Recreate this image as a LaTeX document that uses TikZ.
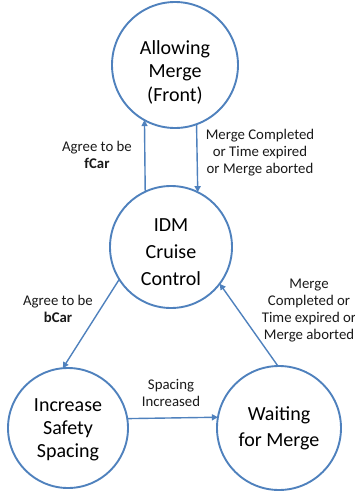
\documentclass[tikz,border=0pt]{standalone}
\usepackage{fontspec}
\setmainfont{Carlito}
\usetikzlibrary{arrows.meta}
\definecolor{stblue}{RGB}{79,129,189}
\tikzset{
  state/.style={circle, draw=stblue, line width=1.9pt, inner sep=0pt, outer sep=0pt,
    minimum size=#1},
  stext/.style={align=center, font=\fontsize{20}{#1}\selectfont, text=black, inner sep=0pt},
  conn/.style={draw=stblue, line width=1.4pt, -{Triangle[length=6pt,width=6pt]}},
  lbl/.style={align=center, font=\fontsize{14.8}{17}\selectfont, text=black!90, inner sep=0pt}
}
\begin{document}
\begin{tikzpicture}[x=1pt,y=-1pt]
\useasboundingbox (0,0) rectangle (355,491);
\node[state=126pt, label={[stext=23.5pt,yshift=-7pt]center:{Allowing\\Merge\\(Front)}}] (top) at (175,65) {};
\node[state=122pt, label={[stext=27pt,yshift=-5pt]center:{IDM\\Cruise\\Control}}] (idm) at (171,247) {};
\node[state=120pt, label={[stext=23pt,yshift=-2pt]center:{Increase\\Safety\\Spacing}}] (inc) at (68,428) {};
\node[state=124pt, label={[stext=26pt]center:{Waiting\\for Merge}}] (wait) at (279,428) {};

\draw[conn] (idm.115.2) -- (top.241.6);
\draw[conn] (top.290.4) -- (idm.64.8);
\draw[conn] (idm.212.3) -- (inc.95);
\draw[conn] (wait.91) -- (idm.323.8);
\draw[conn] (inc.9.6) -- (wait.170.7);

\node[lbl] (l1) at (97,154.5) {Agree to be\\\textbf{fCar}};
\node[lbl] (l2) at (260,153) {Merge Completed\\or Time expired\\or Merge aborted};
\node[lbl] (l3) at (58,309) {Agree to be\\\textbf{bCar}};
\node[lbl] (l4) at (309,310.5) {Merge\\Completed or\\Time expired or\\Merge aborted};
\node[lbl] (l5) at (171,393) {Spacing\\Increased};
\end{tikzpicture}
\end{document}
